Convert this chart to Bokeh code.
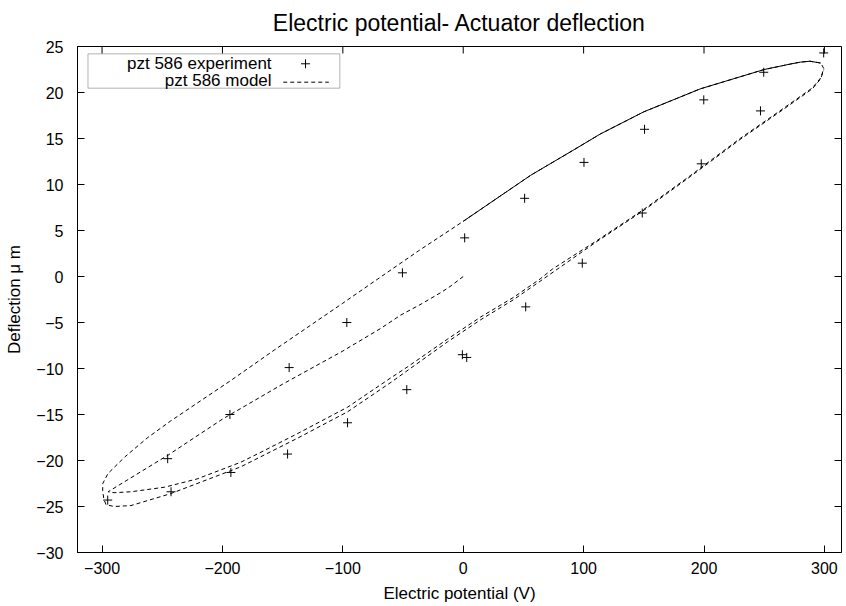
from bokeh.plotting import figure
from bokeh.models import FixedTicker, Range1d, BoxAnnotation, Label
from bokeh.embed import file_html
from bokeh.resources import INLINE

# ---------------- data ----------------
# experiment (pzt 586): voltage (V), deflection (um)
exp_v = [299.4, 249.6, 199.8, 150.6, 100.3, 51.0, 1.2, -50.5, -96.7, -144.6, -193.8, -245.5, -295.3,
         -242.7, -193.0, -145.9, -96.1, -46.9, -0.7, 2.9, 51.9, 98.9, 148.7, 197.7, 246.9]
exp_d = [24.3, 22.2, 19.2, 16.0, 12.4, 8.5, 4.2, 0.4, -5.0, -9.9, -15.0, -19.8, -24.3,
         -23.4, -21.3, -19.3, -15.9, -12.3, -8.5, -8.8, -3.3, 1.45, 6.9, 12.25, 18.0]

# model: virgin curve 0 -> -300
virgin_v = [0, -10, -18, -35, -52, -68, -100, -150, -200, -245, -280, -295]
virgin_d = [0, -1.0, -1.7, -3.0, -4.2, -5.6, -8.1, -11.7, -15.5, -19.4, -22.2, -23.4]

# model: first ascending branch -300 -> 300
asc1_v = [-290, -276, -248, -221, -185, -165, -138, -96, -60, -46, -13, 14.5, 42, 64, 74, 111, 149,
          189, 230, 263, 290, 297, 299.5]
asc1_d = [-23.5, -23.4, -22.9, -22.0, -20.2, -18.9, -17.1, -14.2, -11.0, -9.8, -6.8, -4.4, -2.25,
          -0.25, 0.8, 3.9, 7.2, 11.0, 15.0, 18.0, 20.5, 21.6, 22.6]

# model: descending branch 300 -> -300
desc_v = [297, 288, 280, 272, 250, 197, 150, 114, 91, 56, 0, -37, -68, -100, -157, -193, -243, -262,
          -281, -295, -299.4, -299.5, -298.5]
desc_d = [23.2, 23.4, 23.3, 23.1, 22.5, 20.4, 17.9, 15.5, 13.7, 11.0, 6.0, 2.8, 0.0, -2.9, -8.0,
          -11.3, -15.7, -17.5, -19.6, -21.4, -22.5, -23.3, -24.2]

# model: second ascending branch -300 -> 300
asc2_v = [-296.7, -290, -276, -243, -185, -138, -96, -60, -13, 14.5, 42, 64, 111, 149, 189, 230, 263,
          290, 297, 299.5]
asc2_d = [-24.8, -25.0, -24.9, -23.6, -20.7, -17.6, -14.7, -11.5, -7.1, -4.7, -2.5, -0.5, 3.8, 7.1,
          10.9, 14.9, 17.9, 20.4, 21.5, 22.5]

# model: second descending branch 300 -> 0 (overlaps the first)
desc2_v = [297, 288, 280, 272, 250, 197, 150, 114, 91, 56, 0]
desc2_d = [23.2, 23.4, 23.3, 23.1, 22.5, 20.4, 17.9, 15.5, 13.7, 11.0, 6.0]

x_ticks = [-300, -200, -100, 0, 100, 200, 300]
y_ticks = [-30, -25, -20, -15, -10, -5, 0, 5, 10, 15, 20, 25]

title_text = "Electric potential- Actuator deflection"
x_label = "Electric potential (V)"
y_label = "Deflection \u03bc m"
legend_labels = ["pzt 586 experiment", "pzt 586 model"]

FONT = "Liberation Sans"
X0, X1, Y0, Y1 = -320.4, 314.2, -30, 25
TICK_PX = 7

# ---------------- figure ----------------
W, H = 846, 606
BL, BR, BT, BB = 77, 5, 46, 54
p = figure(width=W, height=H, x_range=Range1d(X0, X1), y_range=Range1d(Y0, Y1),
           output_backend="svg", toolbar_location=None,
           min_border_left=BL, min_border_right=BR, min_border_top=BT, min_border_bottom=BB)
p.grid.visible = False
p.outline_line_color = "black"
p.outline_line_width = 1
p.background_fill_color = "white"
p.border_fill_color = "white"

p.title.text = title_text
p.title.align = "center"
p.title.vertical_align = "top"
p.title.text_font = FONT
p.title.text_font_size = "23px"
p.title.text_font_style = "normal"
p.title.text_color = "black"
p.title.standoff = 17

px_per_y = (H - BT - BB) / (Y1 - Y0)
px_per_x = (W - BL - BR) / (X1 - X0)

for ax in (p.xaxis[0], p.yaxis[0]):
    ax.major_tick_in = TICK_PX
    ax.major_tick_out = 0
    ax.minor_tick_line_color = None
    ax.major_label_text_font = FONT
    ax.major_label_text_font_size = "16px"
    ax.major_label_text_color = "black"
    ax.axis_label_text_font = FONT
    ax.axis_label_text_font_size = "17px"
    ax.axis_label_text_font_style = "normal"
    ax.axis_label_text_color = "black"
    ax.axis_line_color = "black"
    ax.major_tick_line_color = "black"

p.xaxis[0].ticker = FixedTicker(ticks=x_ticks)
p.yaxis[0].ticker = FixedTicker(ticks=y_ticks)
p.xaxis[0].axis_label = x_label
p.yaxis[0].axis_label = y_label
p.xaxis[0].major_label_standoff = 9
p.xaxis[0].axis_label_standoff = 7
p.yaxis[0].major_label_standoff = 14
p.yaxis[0].axis_label_standoff = 9

# mirrored inward ticks on top and right border (gnuplot style)
p.segment(x_ticks, [Y1] * len(x_ticks), x_ticks, [Y1 - TICK_PX / px_per_y] * len(x_ticks),
          line_color="black", line_width=1)
p.segment([X1] * len(y_ticks), y_ticks, [X1 - TICK_PX / px_per_x] * len(y_ticks), y_ticks,
          line_color="black", line_width=1)

# ---------------- data glyphs ----------------
dash = "4 3"
model_v = virgin_v + asc1_v + desc_v + asc2_v
model_d = virgin_d + asc1_d + desc_d + asc2_d
p.line(model_v, model_d, line_color="black", line_width=1, line_dash=dash)
p.line(desc2_v, desc2_d, line_color="black", line_width=1)

p.scatter(exp_v, exp_d, marker="cross", size=9, line_color="black", line_width=1)

# ---------------- legend (gnuplot style: text right-aligned, sample on right) ----------------
p.add_layout(BoxAnnotation(left=-311.7, right=-102.5, top=24.2, bottom=20.47,
                           fill_alpha=0, line_color="black", line_width=1))
p.add_layout(Label(x=-159.2, y=23.12, text=legend_labels[0], text_align="right",
                   text_baseline="middle", text_font=FONT, text_font_size="17px",
                   text_color="black"))
p.add_layout(Label(x=-159.2, y=21.3, text=legend_labels[1], text_align="right",
                   text_baseline="middle", text_font=FONT, text_font_size="17px",
                   text_color="black"))
p.scatter([-131.0], [23.12], marker="cross", size=9, line_color="black", line_width=1)
p.segment([-149.5], [21.12], [-111.7], [21.12], line_color="black", line_width=1, line_dash=dash)

open("out.html", "w").write(file_html(p, INLINE))
